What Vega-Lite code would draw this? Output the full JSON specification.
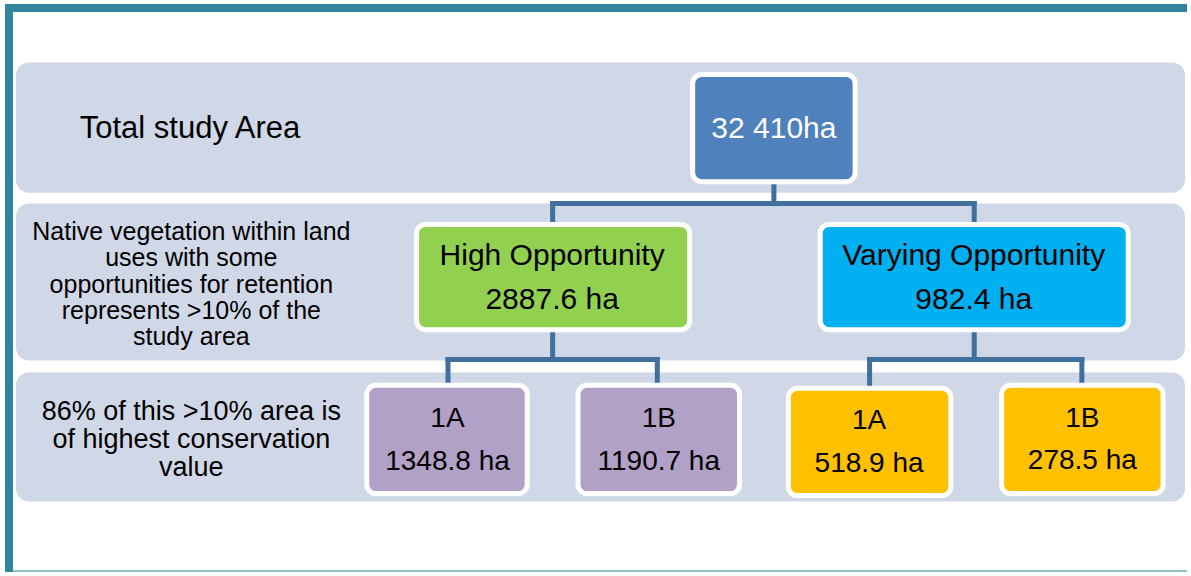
{
  "$schema": "https://vega.github.io/schema/vega-lite/v6.json",
  "width": 1191,
  "height": 576,
  "autosize": {"type": "fit", "contains": "padding"},
  "padding": 0,
  "background": "white",
  "config": {"view": {"stroke": null}, "text": {"font": "Liberation Sans"}},
  "datasets": {
    "frame": [
      {"part": "left", "x0": 9, "x1": 9, "y0": 4, "y1": 576},
      {"part": "top", "x0": 5, "x1": 1191, "y0": 8, "y1": 8}
    ],
    "baseLine": [
      {"part": "bottom", "x0": 13, "x1": 1191, "y0": 575, "y1": 575}
    ],
    "bands": [
      {"band": "Total study Area", "x0": 16, "x1": 1189, "y0": 63, "y1": 194},
      {"band": "Native vegetation", "x0": 16, "x1": 1189, "y0": 205, "y1": 363},
      {"band": "86% of this", "x0": 16, "x1": 1189, "y0": 375, "y1": 505}
    ],
    "links": [
      {"x0": 776.5, "x1": 776.5, "y0": 183, "y1": 205},
      {"x0": 554.5, "x1": 977.5, "y0": 205, "y1": 205},
      {"x0": 554.5, "x1": 554.5, "y0": 205, "y1": 226},
      {"x0": 977.5, "x1": 977.5, "y0": 205, "y1": 226},
      {"x0": 554.5, "x1": 554.5, "y0": 332, "y1": 362},
      {"x0": 449.5, "x1": 659.5, "y0": 362, "y1": 362},
      {"x0": 449.5, "x1": 449.5, "y0": 362, "y1": 388},
      {"x0": 659.5, "x1": 659.5, "y0": 362, "y1": 388},
      {"x0": 977.5, "x1": 977.5, "y0": 332, "y1": 362},
      {"x0": 872.5, "x1": 1085.5, "y0": 362, "y1": 362},
      {"x0": 872.5, "x1": 872.5, "y0": 362, "y1": 391},
      {"x0": 1085.5, "x1": 1085.5, "y0": 362, "y1": 388}
    ],
    "nodes": [
      {"node": "Total", "kind": "total", "title": "", "value": "32 410ha", "x0": 695, "x1": 858, "y0": 75, "y1": 183, "tx": 776.5, "ty1": 0, "ty2": 130},
      {"node": "High Opportunity", "kind": "high", "title": "High Opportunity", "value": "2887.6 ha", "x0": 418, "x1": 692, "y0": 226, "y1": 332, "tx": 554, "ty1": 258, "ty2": 302},
      {"node": "Varying Opportunity", "kind": "varying", "title": "Varying Opportunity", "value": "982.4 ha", "x0": 823, "x1": 1132, "y0": 226, "y1": 332, "tx": 977, "ty1": 258, "ty2": 302},
      {"node": "High 1A", "kind": "highSub", "title": "1A", "value": "1348.8 ha", "x0": 368, "x1": 529, "y0": 388, "y1": 497, "tx": 449, "ty1": 422, "ty2": 465},
      {"node": "High 1B", "kind": "highSub", "title": "1B", "value": "1190.7 ha", "x0": 580, "x1": 742, "y0": 388, "y1": 497, "tx": 661, "ty1": 422, "ty2": 465},
      {"node": "Varying 1A", "kind": "varyingSub", "title": "1A", "value": "518.9 ha", "x0": 791, "x1": 954, "y0": 391, "y1": 499, "tx": 872, "ty1": 424, "ty2": 467},
      {"node": "Varying 1B", "kind": "varyingSub", "title": "1B", "value": "278.5 ha", "x0": 1005, "x1": 1167, "y0": 388, "y1": 497, "tx": 1086, "ty1": 422, "ty2": 464}
    ],
    "bandTitle": [
      {"text": "Total study Area", "x": 80, "y": 130}
    ],
    "sideText": [
      {"text": "Native vegetation within land", "x": 192, "y": 234},
      {"text": "uses with some", "x": 192, "y": 260},
      {"text": "opportunities for retention", "x": 192, "y": 287},
      {"text": "represents >10% of the", "x": 192, "y": 313},
      {"text": "study area", "x": 192, "y": 339}
    ],
    "sideText2": [
      {"text": "86% of this >10% area is", "x": 192, "y": 415},
      {"text": "of highest conservation", "x": 192, "y": 443},
      {"text": "value", "x": 192, "y": 471}
    ]
  },
  "layer": [
    {
      "data": {"name": "bands"},
      "mark": {"type": "rect", "fill": "#D0D8E8", "cornerRadius": 13},
      "encoding": {
        "x": {"field": "x0", "type": "quantitative", "scale": {"domain": [0, 1191], "nice": false, "zero": false}, "axis": null},
        "x2": {"field": "x1"},
        "y": {"field": "y0", "type": "quantitative", "scale": {"domain": [0, 576], "nice": false, "zero": false, "reverse": true}, "axis": null},
        "y2": {"field": "y1"}
      }
    },
    {
      "data": {"name": "frame"},
      "mark": {"type": "rule", "color": "#31849B", "strokeWidth": 8},
      "encoding": {
        "x": {"field": "x0", "type": "quantitative"},
        "x2": {"field": "x1"},
        "y": {"field": "y0", "type": "quantitative"},
        "y2": {"field": "y1"}
      }
    },
    {
      "data": {"name": "baseLine"},
      "mark": {"type": "rule", "color": "#8DBFCB", "strokeWidth": 2},
      "encoding": {
        "x": {"field": "x0", "type": "quantitative"},
        "x2": {"field": "x1"},
        "y": {"field": "y0", "type": "quantitative"},
        "y2": {"field": "y1"}
      }
    },
    {
      "data": {"name": "links"},
      "mark": {"type": "rule", "color": "#41709F", "strokeWidth": 5, "strokeCap": "square"},
      "encoding": {
        "x": {"field": "x0", "type": "quantitative"},
        "x2": {"field": "x1"},
        "y": {"field": "y0", "type": "quantitative"},
        "y2": {"field": "y1"}
      }
    },
    {
      "data": {"name": "nodes"},
      "mark": {"type": "rect", "stroke": "white", "strokeWidth": 5, "cornerRadius": 9},
      "encoding": {
        "x": {"field": "x0", "type": "quantitative"},
        "x2": {"field": "x1"},
        "y": {"field": "y0", "type": "quantitative"},
        "y2": {"field": "y1"},
        "fill": {"field": "kind", "type": "nominal", "legend": null,
          "scale": {"domain": ["total", "high", "varying", "highSub", "varyingSub"], "range": ["#4F81BD", "#92D050", "#00B0F0", "#B2A1C7", "#FFC000"]}}
      }
    },
    {
      "data": {"name": "nodes"},
      "transform": [{"filter": "datum.kind === 'high' || datum.kind === 'varying'"}],
      "mark": {"type": "text", "fontSize": 30, "color": "black", "align": "center", "baseline": "middle"},
      "encoding": {
        "x": {"field": "tx", "type": "quantitative"},
        "y": {"field": "ty1", "type": "quantitative"},
        "text": {"field": "title"}
      }
    },
    {
      "data": {"name": "nodes"},
      "transform": [{"filter": "datum.kind === 'high' || datum.kind === 'varying'"}],
      "mark": {"type": "text", "fontSize": 30, "color": "black", "align": "center", "baseline": "middle"},
      "encoding": {
        "x": {"field": "tx", "type": "quantitative"},
        "y": {"field": "ty2", "type": "quantitative"},
        "text": {"field": "value"}
      }
    },
    {
      "data": {"name": "nodes"},
      "transform": [{"filter": "datum.kind === 'highSub' || datum.kind === 'varyingSub'"}],
      "mark": {"type": "text", "fontSize": 28, "color": "black", "align": "center", "baseline": "middle"},
      "encoding": {
        "x": {"field": "tx", "type": "quantitative"},
        "y": {"field": "ty1", "type": "quantitative"},
        "text": {"field": "title"}
      }
    },
    {
      "data": {"name": "nodes"},
      "transform": [{"filter": "datum.kind === 'highSub' || datum.kind === 'varyingSub'"}],
      "mark": {"type": "text", "fontSize": 28, "color": "black", "align": "center", "baseline": "middle"},
      "encoding": {
        "x": {"field": "tx", "type": "quantitative"},
        "y": {"field": "ty2", "type": "quantitative"},
        "text": {"field": "value"}
      }
    },
    {
      "data": {"name": "nodes"},
      "transform": [{"filter": "datum.kind === 'total'"}],
      "mark": {"type": "text", "fontSize": 30, "color": "white", "align": "center", "baseline": "middle"},
      "encoding": {
        "x": {"field": "tx", "type": "quantitative"},
        "y": {"field": "ty2", "type": "quantitative"},
        "text": {"field": "value"}
      }
    },
    {
      "data": {"name": "bandTitle"},
      "mark": {"type": "text", "fontSize": 31, "color": "black", "align": "left", "baseline": "middle"},
      "encoding": {
        "x": {"field": "x", "type": "quantitative"},
        "y": {"field": "y", "type": "quantitative"},
        "text": {"field": "text"}
      }
    },
    {
      "data": {"name": "sideText"},
      "mark": {"type": "text", "fontSize": 25, "color": "black", "align": "center", "baseline": "middle"},
      "encoding": {
        "x": {"field": "x", "type": "quantitative"},
        "y": {"field": "y", "type": "quantitative"},
        "text": {"field": "text"}
      }
    },
    {
      "data": {"name": "sideText2"},
      "mark": {"type": "text", "fontSize": 27, "color": "black", "align": "center", "baseline": "middle"},
      "encoding": {
        "x": {"field": "x", "type": "quantitative"},
        "y": {"field": "y", "type": "quantitative"},
        "text": {"field": "text"}
      }
    }
  ]
}
